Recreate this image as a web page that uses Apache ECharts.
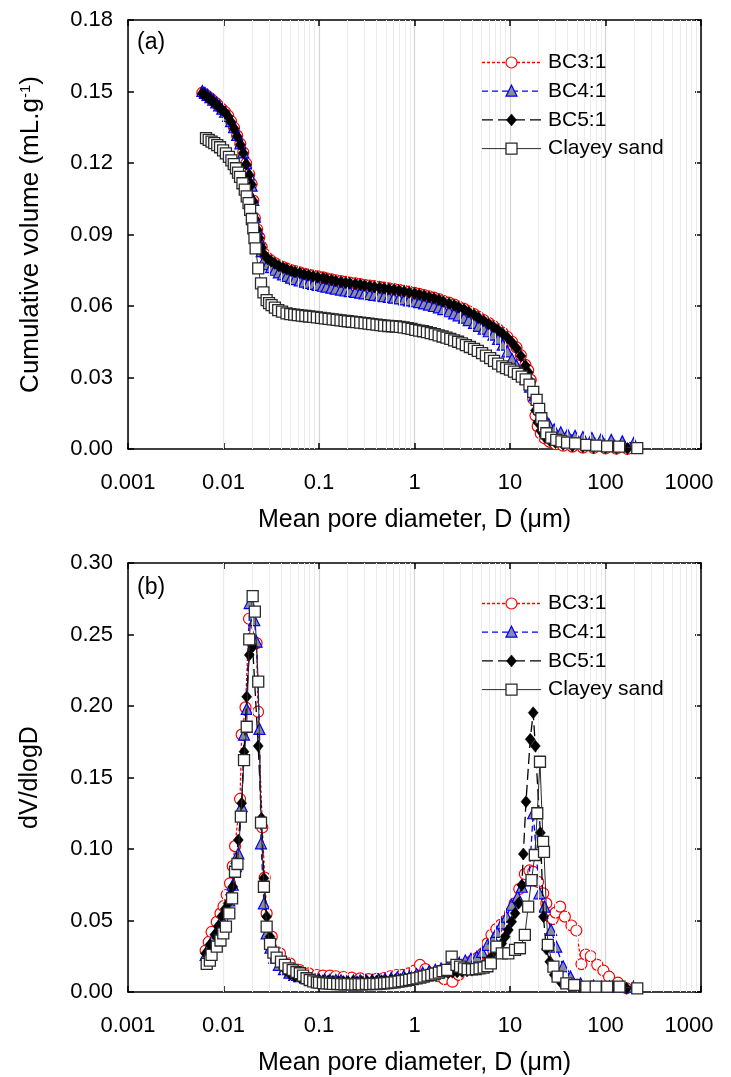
<!DOCTYPE html>
<html>
<head>
<meta charset="utf-8">
<script src="https://cdn.jsdelivr.net/npm/echarts@6/dist/echarts.min.js"></script>
<style>
  html, body { margin: 0; padding: 0; background: #fff; }
  #chart { width: 731px; height: 1077px; }
</style>
</head>
<body>
<div id="chart"></div>
<script>
// Series names
const seriesNames = ['BC3:1', 'BC4:1', 'BC5:1', 'Clayey sand'];

// Axis ticks
const decadeTicks = [0.001, 0.01, 0.1, 1, 10, 100, 1000];
const minorDiameters = [
  0.002,0.003,0.004,0.005,0.006,0.007,0.008,0.009,
  0.02,0.03,0.04,0.05,0.06,0.07,0.08,0.09,
  0.2,0.3,0.4,0.5,0.6,0.7,0.8,0.9,
  2,3,4,5,6,7,8,9,
  20,30,40,50,60,70,80,90,
  200,300,400,500,600,700,800,900
];
const cumTicks = [0, 0.03, 0.06, 0.09, 0.12, 0.15, 0.18];
const diffTicks = [0, 0.05, 0.10, 0.15, 0.20, 0.25, 0.30];

// (a) Cumulative intruded volume, [D (um), V (mL/g)]
const bc3Cum = [[0.0060,0.1495],[0.0064,0.1488],[0.0068,0.1480],[0.0073,0.1471],[0.0078,0.1461],[0.0084,0.1450],[0.0090,0.1438],[0.0097,0.1425],[0.0104,0.1414],[0.0112,0.1398],[0.0120,0.1375],[0.0129,0.1348],[0.0139,0.1315],[0.0150,0.1281],[0.0161,0.1245],[0.0173,0.1198],[0.0186,0.1153],[0.0197,0.1112],[0.0205,0.1042],[0.0213,0.0968],[0.0225,0.0922],[0.0237,0.0888],[0.0251,0.0848],[0.0268,0.0818],[0.0290,0.0801],[0.0315,0.0790],[0.0345,0.0780],[0.038,0.0771],[0.042,0.0763],[0.046,0.0757],[0.051,0.0751],[0.056,0.0746],[0.063,0.0741],[0.070,0.0736],[0.078,0.0732],[0.087,0.0728],[0.097,0.0724],[0.11,0.0720],[0.12,0.0716],[0.135,0.0712],[0.15,0.0708],[0.17,0.0704],[0.19,0.0701],[0.21,0.0698],[0.24,0.0695],[0.27,0.0692],[0.30,0.0689],[0.34,0.0686],[0.38,0.0683],[0.43,0.0680],[0.48,0.0677],[0.54,0.0674],[0.61,0.0671],[0.69,0.0668],[0.78,0.0664],[0.88,0.0660],[1.0,0.0655],[1.12,0.0651],[1.26,0.0646],[1.42,0.0641],[1.6,0.0635],[1.8,0.0629],[2.0,0.0622],[2.3,0.0614],[2.6,0.0606],[2.9,0.0598],[3.3,0.0588],[3.7,0.0578],[4.2,0.0566],[4.7,0.0554],[5.3,0.0541],[6.0,0.0528],[6.7,0.0516],[7.5,0.0502],[8.4,0.0487],[9.4,0.0470],[10.5,0.0450],[11.7,0.0426],[13.0,0.0393],[14.5,0.0353],[15.5,0.0330],[16.5,0.0290],[17.5,0.0210],[18.5,0.0140],[19.5,0.0095],[21,0.0065],[23,0.0045],[26,0.0030],[30,0.0020],[36,0.0014],[45,0.0010],[58,0.0006],[75,0.0004],[100,0.0002],[130,0.0001],[170,0.0000]];

const bc4Cum = [[0.0060,0.1502],[0.0064,0.1494],[0.0068,0.1486],[0.0073,0.1476],[0.0078,0.1466],[0.0084,0.1454],[0.0090,0.1442],[0.0097,0.1428],[0.0104,0.1415],[0.0112,0.1398],[0.0120,0.1376],[0.0129,0.1350],[0.0139,0.1318],[0.0150,0.1282],[0.0161,0.1245],[0.0173,0.1200],[0.0186,0.1152],[0.0197,0.1105],[0.0205,0.1045],[0.0213,0.0975],[0.0225,0.0925],[0.0237,0.0880],[0.0251,0.0830],[0.0268,0.0795],[0.0290,0.0776],[0.0315,0.0763],[0.0345,0.0752],[0.038,0.0741],[0.042,0.0733],[0.046,0.0726],[0.051,0.0719],[0.056,0.0713],[0.063,0.0707],[0.070,0.0702],[0.078,0.0697],[0.087,0.0693],[0.097,0.0689],[0.11,0.0685],[0.12,0.0681],[0.135,0.0677],[0.15,0.0673],[0.17,0.0669],[0.19,0.0665],[0.21,0.0662],[0.24,0.0659],[0.27,0.0656],[0.30,0.0653],[0.34,0.0650],[0.38,0.0647],[0.43,0.0644],[0.48,0.0641],[0.54,0.0638],[0.61,0.0635],[0.69,0.0632],[0.78,0.0628],[0.88,0.0624],[1.0,0.0620],[1.12,0.0616],[1.26,0.0611],[1.42,0.0606],[1.6,0.0600],[1.8,0.0594],[2.0,0.0587],[2.3,0.0578],[2.6,0.0569],[2.9,0.0561],[3.3,0.0551],[3.7,0.0541],[4.2,0.0529],[4.7,0.0517],[5.3,0.0505],[6.0,0.0494],[6.7,0.0480],[7.5,0.0462],[8.4,0.0438],[9.4,0.0410],[10.5,0.0378],[11.7,0.0350],[13.0,0.0320],[14.5,0.0295],[16.2,0.0262],[18.0,0.0225],[20.0,0.0185],[22.5,0.0140],[25.5,0.0105],[29,0.0082],[34,0.0070],[40,0.0062],[48,0.0055],[58,0.0050],[72,0.0046],[90,0.0042],[115,0.0038],[150,0.0032],[197,0.0025]];

const bc5Cum = [[0.0060,0.1492],[0.0064,0.1485],[0.0068,0.1477],[0.0073,0.1468],[0.0078,0.1458],[0.0084,0.1447],[0.0090,0.1435],[0.0097,0.1422],[0.0104,0.1412],[0.0112,0.1395],[0.0120,0.1372],[0.0129,0.1345],[0.0139,0.1312],[0.0150,0.1278],[0.0161,0.1242],[0.0173,0.1195],[0.0186,0.1150],[0.0197,0.1110],[0.0205,0.1040],[0.0213,0.0965],[0.0225,0.0920],[0.0237,0.0885],[0.0251,0.0845],[0.0268,0.0815],[0.0290,0.0798],[0.0315,0.0788],[0.0345,0.0778],[0.038,0.0768],[0.042,0.0760],[0.046,0.0754],[0.051,0.0748],[0.056,0.0743],[0.063,0.0738],[0.070,0.0733],[0.078,0.0729],[0.087,0.0725],[0.097,0.0721],[0.11,0.0717],[0.12,0.0713],[0.135,0.0709],[0.15,0.0705],[0.17,0.0701],[0.19,0.0698],[0.21,0.0695],[0.24,0.0692],[0.27,0.0689],[0.30,0.0686],[0.34,0.0683],[0.38,0.0680],[0.43,0.0677],[0.48,0.0674],[0.54,0.0671],[0.61,0.0668],[0.69,0.0665],[0.78,0.0661],[0.88,0.0657],[1.0,0.0652],[1.12,0.0648],[1.26,0.0643],[1.42,0.0638],[1.6,0.0632],[1.8,0.0626],[2.0,0.0619],[2.3,0.0611],[2.6,0.0603],[2.9,0.0595],[3.3,0.0585],[3.7,0.0575],[4.2,0.0563],[4.7,0.0551],[5.3,0.0538],[6.0,0.0525],[6.7,0.0513],[7.5,0.0499],[8.4,0.0484],[9.4,0.0467],[10.5,0.0447],[11.7,0.0423],[13.0,0.0390],[14.5,0.0350],[15.5,0.0322],[16.5,0.0282],[17.5,0.0222],[18.5,0.0162],[19.5,0.0112],[21,0.0076],[23,0.0052],[26,0.0036],[30,0.0026],[36,0.0019],[45,0.0013],[58,0.0009],[75,0.0006],[100,0.0004],[130,0.0003],[170,0.0002]];

const claySandCum = [[0.00656,0.1304],[0.0070,0.1297],[0.0075,0.1290],[0.0080,0.1283],[0.0086,0.1275],[0.0092,0.1266],[0.0099,0.1253],[0.0106,0.1240],[0.0114,0.1226],[0.0121,0.1211],[0.0128,0.1195],[0.0135,0.1178],[0.0142,0.1160],[0.0149,0.1142],[0.0158,0.1115],[0.0167,0.1088],[0.0175,0.1060],[0.0183,0.1032],[0.0190,0.1003],[0.0198,0.0965],[0.0205,0.0926],[0.0211,0.0885],[0.0217,0.0842],[0.0231,0.0758],[0.0247,0.0695],[0.0262,0.0657],[0.0283,0.0625],[0.0300,0.0612],[0.0319,0.0604],[0.0345,0.0593],[0.0374,0.0583],[0.041,0.0576],[0.0457,0.0569],[0.050,0.0566],[0.055,0.0564],[0.060,0.0562],[0.066,0.0560],[0.072,0.0558],[0.079,0.0556],[0.087,0.0554],[0.095,0.0552],[0.105,0.0550],[0.115,0.0548],[0.126,0.0546],[0.139,0.0544],[0.153,0.0542],[0.168,0.0540],[0.185,0.0538],[0.20,0.0536],[0.22,0.0534],[0.245,0.0532],[0.27,0.0530],[0.30,0.0528],[0.33,0.0526],[0.36,0.0524],[0.40,0.0522],[0.44,0.0520],[0.48,0.0518],[0.53,0.0516],[0.58,0.0515],[0.64,0.0514],[0.70,0.0512],[0.77,0.0510],[0.85,0.0507],[0.93,0.0504],[1.02,0.0500],[1.12,0.0497],[1.23,0.0494],[1.35,0.0490],[1.48,0.0486],[1.63,0.0482],[1.79,0.0477],[1.97,0.0472],[2.16,0.0467],[2.37,0.0462],[2.6,0.0456],[2.86,0.0450],[3.14,0.0443],[3.45,0.0436],[3.8,0.0428],[4.2,0.0420],[4.6,0.0412],[5.1,0.0402],[5.6,0.0392],[6.2,0.0381],[6.8,0.0370],[7.5,0.0358],[8.3,0.0347],[9.1,0.0339],[10.0,0.0333],[11.0,0.0325],[12.1,0.0315],[13.3,0.0304],[14.6,0.0292],[16.0,0.0270],[17.5,0.0240],[19.0,0.0206],[20.2,0.0168],[21.3,0.0129],[22.6,0.0095],[24.0,0.0066],[27.0,0.0048],[30.5,0.0038],[34.6,0.0032],[39.6,0.0027],[48,0.0024],[63,0.0017],[80,0.0014],[104,0.0011],[139,0.0010],[215,0.0004]];

// (b) Differential intrusion, [D (um), dV/dlogD]
const bc3Diff = [[0.0065,0.029],[0.0070,0.035],[0.0075,0.042],[0.0085,0.049],[0.0093,0.055],[0.0100,0.060],[0.0108,0.068],[0.0117,0.076],[0.0125,0.088],[0.0132,0.102],[0.0149,0.135],[0.0155,0.180],[0.0170,0.199],[0.0185,0.261],[0.0222,0.244],[0.0230,0.196],[0.0255,0.115],[0.0270,0.080],[0.0283,0.055],[0.032,0.0387],[0.039,0.027],[0.0495,0.020],[0.063,0.0154],[0.078,0.013],[0.095,0.0119],[0.11,0.0115],[0.13,0.0115],[0.15,0.011],[0.18,0.0105],[0.22,0.010],[0.27,0.0095],[0.33,0.009],[0.40,0.0092],[0.48,0.0098],[0.56,0.011],[0.65,0.0119],[0.75,0.012],[0.87,0.013],[1.0,0.015],[1.14,0.0189],[1.3,0.016],[1.5,0.013],[1.75,0.011],[2.05,0.009],[2.5,0.0072],[2.9,0.012],[3.4,0.018],[4.0,0.022],[4.6,0.024],[5.2,0.027],[5.8,0.034],[6.4,0.040],[7.2,0.044],[8.0,0.047],[9.0,0.050],[10.0,0.055],[11.2,0.062],[12.5,0.072],[14.3,0.0825],[16,0.085],[17.5,0.084],[19.7,0.077],[22.3,0.069],[24,0.062],[26,0.0527],[28,0.051],[30,0.0555],[33.5,0.0597],[37.5,0.0527],[44,0.0465],[49.5,0.043],[56,0.0195],[62,0.0262],[70,0.025],[82,0.019],[95,0.015],[109,0.0107],[135,0.0065],[166,0.0026]];

const bc4Diff = [[0.0065,0.026],[0.0072,0.033],[0.0080,0.039],[0.0088,0.045],[0.0096,0.051],[0.0105,0.057],[0.0115,0.064],[0.0125,0.075],[0.0135,0.088],[0.0143,0.097],[0.0155,0.130],[0.0164,0.180],[0.0175,0.198],[0.0188,0.272],[0.0210,0.260],[0.0222,0.245],[0.0238,0.184],[0.0247,0.104],[0.0265,0.062],[0.0283,0.041],[0.031,0.031],[0.034,0.024],[0.038,0.019],[0.043,0.016],[0.049,0.0135],[0.055,0.012],[0.062,0.011],[0.070,0.0103],[0.080,0.0097],[0.090,0.0093],[0.10,0.009],[0.115,0.0087],[0.13,0.0085],[0.15,0.0083],[0.17,0.0082],[0.20,0.0081],[0.23,0.0081],[0.27,0.0082],[0.31,0.0083],[0.36,0.0085],[0.42,0.0088],[0.49,0.0092],[0.57,0.0097],[0.66,0.0103],[0.77,0.011],[0.90,0.0118],[1.05,0.0126],[1.22,0.0135],[1.42,0.0145],[1.65,0.0155],[1.9,0.0165],[2.2,0.0175],[2.55,0.019],[2.95,0.0205],[3.4,0.022],[3.9,0.0232],[4.5,0.0247],[5.1,0.028],[5.8,0.033],[6.7,0.0375],[7.3,0.042],[8.2,0.048],[9.2,0.0527],[10.4,0.061],[12.0,0.0666],[13.3,0.0736],[15.8,0.078],[17.5,0.125],[20.3,0.069],[23,0.0597],[26.9,0.0434],[30.5,0.0317],[36,0.018],[43,0.0107],[55,0.006],[75,0.0045],[110,0.004],[150,0.0038],[197,0.0037]];

const bc5Diff = [[0.0065,0.027],[0.0072,0.033],[0.0081,0.040],[0.0088,0.046],[0.0096,0.053],[0.0104,0.058],[0.0112,0.062],[0.0118,0.068],[0.0125,0.0736],[0.0134,0.090],[0.0143,0.1063],[0.0155,0.132],[0.0164,0.168],[0.0175,0.2065],[0.0186,0.2357],[0.0202,0.2415],[0.0231,0.172],[0.0250,0.1215],[0.0265,0.0795],[0.0283,0.0527],[0.0307,0.0387],[0.033,0.030],[0.036,0.024],[0.040,0.019],[0.045,0.015],[0.050,0.0125],[0.056,0.011],[0.063,0.010],[0.071,0.0095],[0.080,0.009],[0.090,0.0086],[0.10,0.0083],[0.11,0.008],[0.125,0.0078],[0.14,0.0076],[0.16,0.0074],[0.18,0.0073],[0.20,0.0072],[0.225,0.0072],[0.25,0.0072],[0.28,0.0073],[0.32,0.0074],[0.36,0.0075],[0.40,0.0077],[0.45,0.0079],[0.50,0.0081],[0.56,0.0084],[0.63,0.0087],[0.71,0.009],[0.80,0.0094],[0.90,0.0098],[1.0,0.0103],[1.12,0.0108],[1.26,0.0113],[1.42,0.0118],[1.6,0.0123],[1.8,0.0128],[2.0,0.0132],[2.25,0.0135],[2.5,0.0138],[2.8,0.014],[3.15,0.0143],[3.55,0.0147],[4.0,0.0152],[4.5,0.016],[5.0,0.0175],[5.6,0.020],[6.3,0.024],[7.0,0.029],[7.6,0.0315],[8.2,0.034],[8.9,0.0387],[9.6,0.0434],[10.4,0.0492],[11.3,0.055],[12.3,0.062],[13.3,0.0748],[13.8,0.0965],[14.7,0.1331],[16.3,0.1767],[17.5,0.1953],[18.4,0.172],[20.8,0.1114],[22.4,0.0527],[24,0.030],[26.1,0.0212],[29,0.012],[34.7,0.0061],[42,0.0045],[54,0.0037],[70,0.0035],[90,0.0036],[120,0.0037],[166,0.0026]];

const claySandDiff = [[0.00667,0.0196],[0.0072,0.022],[0.0075,0.0259],[0.0085,0.0317],[0.0093,0.036],[0.00995,0.041],[0.0106,0.0457],[0.0115,0.055],[0.0123,0.0655],[0.0132,0.0841],[0.0140,0.0895],[0.0152,0.1226],[0.0164,0.1622],[0.0175,0.1855],[0.0186,0.2466],[0.0202,0.2769],[0.0213,0.266],[0.0231,0.217],[0.0247,0.1184],[0.0265,0.0736],[0.0283,0.0457],[0.0307,0.0336],[0.0333,0.0275],[0.036,0.024],[0.040,0.0212],[0.044,0.0189],[0.048,0.0165],[0.053,0.0154],[0.058,0.014],[0.063,0.0131],[0.068,0.0115],[0.074,0.0096],[0.080,0.0084],[0.087,0.0075],[0.095,0.0068],[0.10,0.0065],[0.11,0.0062],[0.12,0.006],[0.13,0.0058],[0.14,0.0057],[0.155,0.0056],[0.17,0.0055],[0.185,0.0054],[0.20,0.0055],[0.22,0.0054],[0.24,0.0053],[0.26,0.0055],[0.28,0.0054],[0.31,0.0056],[0.34,0.0055],[0.37,0.0057],[0.40,0.0056],[0.44,0.0058],[0.48,0.006],[0.52,0.0062],[0.57,0.0065],[0.62,0.0068],[0.68,0.0072],[0.74,0.0076],[0.81,0.008],[0.88,0.0085],[0.96,0.009],[1.05,0.0095],[1.15,0.010],[1.25,0.0108],[1.37,0.0115],[1.5,0.012],[1.64,0.0128],[1.8,0.0135],[1.97,0.0145],[2.2,0.0155],[2.45,0.0247],[2.75,0.0189],[3.0,0.0177],[3.3,0.0165],[3.6,0.016],[4.0,0.0158],[4.4,0.016],[4.8,0.0165],[5.3,0.017],[5.8,0.018],[6.3,0.020],[7.2,0.0317],[8.2,0.027],[9.6,0.027],[11.3,0.0294],[12.7,0.0306],[14.3,0.0399],[15.5,0.0597],[16.8,0.0783],[18.2,0.0958],[19.3,0.125],[20.6,0.161],[22.2,0.105],[22.7,0.098],[24.9,0.0329],[28.5,0.0177],[31.5,0.0107],[38.9,0.0061],[47,0.0049],[63,0.0037],[79,0.0037],[104,0.0037],[140,0.0037],[215,0.0026]];

const FONT = '"Liberation Sans", Arial, sans-serif';

const chart = echarts.init(document.getElementById('chart'), null, { renderer: 'canvas' });

// Decade labels; the last one is nudged inward so it stays inside the page
const fmtDecade = v => {
  const s = String(Number(Number(v).toPrecision(6)));
  return Number(s) === decadeTicks[decadeTicks.length - 1] ? '{last|' + s + '}' : s;
};

const grids = [
  { left: 128, top: 20, width: 573, height: 429 },
  { left: 128, top: 563, width: 573, height: 429 }
];

function xAxes(gi) {
  const common = {
    type: 'log', logBase: 10, min: decadeTicks[0], max: decadeTicks[decadeTicks.length - 1],
    gridIndex: gi,
    axisLine: { show: true, onZero: false, lineStyle: { color: '#000', width: 1.5 } },
    axisTick: { show: true, inside: true, length: 6, lineStyle: { color: '#000', width: 1.5 } },
    minorTick: { show: false },
    splitNumber: 6
  };
  return [
    Object.assign({}, common, {
      position: 'bottom',
      axisLabel: {
        show: true, color: '#000', fontSize: 22, fontFamily: FONT, margin: 23, formatter: fmtDecade,
        rich: { last: { fontSize: 22, fontFamily: FONT, color: '#000', padding: [0, 24, 0, 0] } }
      },
      splitLine: { show: true, lineStyle: { color: '#d4d4d4', width: 1.2 } },
      name: 'Mean pore diameter, D (\u03bcm)',
      nameLocation: 'middle', nameGap: 59,
      nameTextStyle: { color: '#000', fontSize: 25, fontFamily: FONT }
    }),
    Object.assign({}, common, {
      position: 'top',
      axisLabel: { show: false },
      splitLine: { show: false }
    })
  ];
}

function yAxes(gi, ticks, name, nameSize, nameGap) {
  const step = ticks[1] - ticks[0];
  const common = {
    type: 'value', gridIndex: gi, min: ticks[0], max: ticks[ticks.length - 1], interval: step,
    axisLine: { show: true, onZero: false, lineStyle: { color: '#000', width: 1.5 } },
    axisTick: { show: true, inside: true, length: 6, lineStyle: { color: '#000', width: 1.5 } },
    splitLine: { show: false }
  };
  return [
    Object.assign({}, common, {
      position: 'left',
      axisLabel: { show: true, color: '#000', fontSize: 22, fontFamily: FONT, margin: 15, formatter: v => v.toFixed(2) },
      name: name,
      nameLocation: 'middle', nameGap: nameGap, nameRotate: 90,
      nameTextStyle: {
        color: '#000', fontSize: nameSize, fontFamily: FONT,
        rich: { sup: { fontSize: 15, verticalAlign: 'top', color: '#000', fontFamily: FONT, padding: [0, 0, 10, 0] } }
      }
    }),
    Object.assign({}, common, {
      position: 'right',
      axisLabel: { show: false }
    })
  ];
}

const styleOf = {
  'BC3:1': {
    symbol: 'circle', symbolSize: 11,
    itemStyle: { color: '#ffffff', borderColor: '#ff0000', borderWidth: 1.2 },
    lineStyle: { color: '#ff0000', width: 1.3, type: [3, 2] }
  },
  'BC4:1': {
    symbol: 'triangle', symbolSize: 11,
    itemStyle: { color: '#8c8c96', borderColor: '#0000ff', borderWidth: 1.2 },
    lineStyle: { color: '#0000ff', width: 1.3, type: [6, 4] }
  },
  'BC5:1': {
    symbol: 'diamond', symbolSize: [10, 12],
    itemStyle: { color: '#000000', borderColor: '#000000', borderWidth: 0.5 },
    lineStyle: { color: '#000000', width: 1.3, type: [11, 5] }
  },
  'Clayey sand': {
    symbol: 'rect', symbolSize: 11,
    itemStyle: { color: '#ffffff', borderColor: '#2a2a2a', borderWidth: 1.3 },
    lineStyle: { color: '#2a2a2a', width: 1, type: 'solid' }
  }
};

function dataSeries(gi, sets) {
  return seriesNames.map((n, k) => Object.assign({
    name: n, type: 'line', xAxisIndex: gi * 2, yAxisIndex: gi * 2,
    data: sets[k], showSymbol: true, showAllSymbol: true, smooth: false,
    z: 3 + k, silent: true, clip: true
  }, styleOf[n]));
}

function minorGridSeries(gi) {
  return {
    type: 'line', xAxisIndex: gi * 2, yAxisIndex: gi * 2, data: [], z: 1, silent: true,
    markLine: {
      silent: true, symbol: ['none', 'none'], label: { show: false },
      lineStyle: { color: '#ececec', width: 1, type: 'solid' },
      emphasis: { disabled: true },
      animation: false,
      data: minorDiameters.map(v => ({ xAxis: v }))
    }
  };
}

// Legend key: sample line, marker and name for each series
function legendMarker(name, cx, cy) {
  const st = styleOf[name];
  const s = { fill: st.itemStyle.color, stroke: st.itemStyle.borderColor, lineWidth: st.itemStyle.borderWidth };
  if (st.symbol === 'circle') return { type: 'circle', shape: { cx, cy, r: 5.5 }, style: s, z: 20 };
  if (st.symbol === 'rect') return { type: 'rect', shape: { x: cx - 5.5, y: cy - 5.5, width: 11, height: 11 }, style: s, z: 20 };
  if (st.symbol === 'triangle') return { type: 'polygon', shape: { points: [[cx, cy - 6], [cx + 5.5, cy + 5], [cx - 5.5, cy + 5]] }, style: s, z: 20 };
  return { type: 'polygon', shape: { points: [[cx, cy - 6], [cx + 5, cy], [cx, cy + 6], [cx - 5, cy]] }, style: s, z: 20 };
}

function legendKey(top) {
  const out = [];
  seriesNames.forEach((n, i) => {
    const cy = top + i * 28.7;
    const ls = styleOf[n].lineStyle;
    out.push({
      type: 'line', shape: { x1: 482, y1: cy, x2: 541, y2: cy }, z: 19,
      style: { stroke: ls.color, lineWidth: ls.width, lineDash: Array.isArray(ls.type) ? ls.type : null }
    });
    out.push(legendMarker(n, 511.5, cy));
    out.push({
      type: 'text', x: 548, y: cy, z: 20,
      style: { text: n, fontSize: 21, fontFamily: FONT, fill: '#000', verticalAlign: 'middle', align: 'left' }
    });
  });
  return out;
}

const option = {
  backgroundColor: '#ffffff',
  animation: false,
  textStyle: { fontFamily: FONT },
  grid: grids,
  xAxis: [...xAxes(0), ...xAxes(1)],
  yAxis: [
    ...yAxes(0, cumTicks, 'Cumulative volume (mL.g{sup|-1})', 26, 84),
    ...yAxes(1, diffTicks, 'dV/dlogD', 25, 85)
  ],
  graphic: [
    { type: 'text', left: 137, top: 31, style: { text: '(a)', fontSize: 23, fontFamily: FONT, fill: '#000' } },
    { type: 'text', left: 137, top: 576, style: { text: '(b)', fontSize: 23, fontFamily: FONT, fill: '#000' } },
    ...legendKey(62.5),
    ...legendKey(603.5)
  ],
  series: [
    minorGridSeries(0),
    minorGridSeries(1),
    ...dataSeries(0, [bc3Cum, bc4Cum, bc5Cum, claySandCum]),
    ...dataSeries(1, [bc3Diff, bc4Diff, bc5Diff, claySandDiff])
  ]
};

chart.setOption(option);
</script>
</body>
</html>
